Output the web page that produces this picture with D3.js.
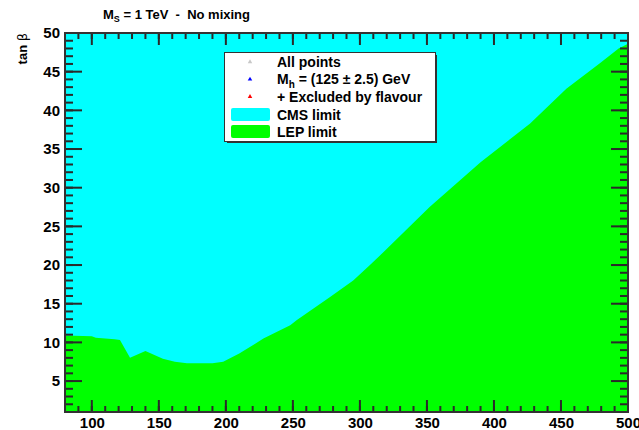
<!DOCTYPE html>
<html>
<head>
<meta charset="utf-8">
<script src="https://cdn.jsdelivr.net/npm/d3@7"></script>
<style>
  body { margin: 0; background: #fff; }
  text { font-family: "Liberation Sans", Arial, sans-serif; font-weight: bold; }
</style>
</head>
<body>
<div id="chart"></div>
<script>
// LEP exclusion boundary (M_A in GeV, tan beta)
var mA   = [80, 100, 103, 117, 121, 128.5, 140, 153, 162, 171, 190, 198, 210, 228, 248, 253, 278, 295, 307.5, 319, 352, 390, 427, 454, 479, 493, 500];
var tanB = [10.9, 10.8, 10.6, 10.4, 10.3, 8.0, 8.9, 7.9, 7.5, 7.3, 7.3, 7.5, 8.55, 10.5, 12.2, 12.9, 15.9, 18.0, 20.0, 21.9, 27.5, 33.3, 38.3, 42.8, 46.1, 48.0, 48.6];

var xMajor = [100, 150, 200, 250, 300, 350, 400, 450, 500];
var yMajor = [5, 10, 15, 20, 25, 30, 35, 40, 45, 50];

var legendMarkers = [
    {label: "All points", color: "#c8c8c8"},
    {label: "M_h = (125 \u00b1 2.5) GeV", color: "#0000ff"},
    {label: "+ Excluded by flavour", color: "#ff0000"}
];
var legendBoxes = [
    {label: "CMS limit", color: "#00ffff"},
    {label: "LEP limit", color: "#00ff00"}
];

var width = 639, height = 430;
var margin = {left: 65, top: 33, right: 11, bottom: 18};
var pw = width - margin.left - margin.right;
var ph = height - margin.top - margin.bottom;

var svg = d3.select("#chart").append("svg")
    .attr("width", width)
    .attr("height", height);

var x = d3.scaleLinear().domain([80, 500]).range([0, pw]);
var y = d3.scaleLinear().domain([1, 50]).range([ph, 0]);

var g = svg.append("g").attr("transform", "translate(" + margin.left + "," + margin.top + ")");

// CMS region fills the whole frame, LEP region on top of it
g.append("rect").attr("width", pw).attr("height", ph).attr("fill", "#00ffff");

var pts = mA.map(function(d, i) { return [d, tanB[i]]; });
var area = d3.area()
    .x(function(d) { return x(d[0]); })
    .y0(y(1))
    .y1(function(d) { return y(d[1]); });
g.append("path").datum(pts).attr("d", area).attr("fill", "#00ff00");

// title
var title = svg.append("text").attr("x", 103).attr("y", 19).attr("font-size", 13);
title.append("tspan").text("M");
title.append("tspan").attr("font-size", 9).attr("dy", 3).text("S");
title.append("tspan").attr("dy", -3).text(" = 1 TeV \u00a0-\u00a0 No mixing");

// y title
var yt = svg.append("text")
    .attr("transform", "translate(27," + margin.top + ") rotate(-90)")
    .attr("text-anchor", "end")
    .attr("font-size", 13);
yt.append("tspan").text("tan ");
yt.append("tspan").attr("font-weight", "normal").attr("font-family", "'DejaVu Sans', sans-serif").text("\u03b2");

// legend
var lg = svg.append("g").attr("transform", "translate(225,53)");
lg.append("rect").attr("x", 2).attr("y", 2).attr("width", 210).attr("height", 88).attr("fill", "#333");
lg.append("rect").attr("x", -1).attr("y", -1).attr("width", 212).attr("height", 90).attr("fill", "#333");
lg.append("rect").attr("width", 210).attr("height", 88).attr("fill", "#fff");

var tri = d3.symbol().type(d3.symbolTriangle).size(9);
legendMarkers.forEach(function(d, i) {
    var cy = 9 + i * 17.3;
    lg.append("path").attr("d", tri)
        .attr("transform", "translate(25," + cy + ")")
        .attr("fill", d.color);
    var t = lg.append("text").attr("x", 52).attr("y", cy + 5).attr("font-size", 14);
    var parts = d.label.split("_h");
    if (parts.length > 1) {
        t.append("tspan").text(parts[0]);
        t.append("tspan").attr("font-size", 10).attr("dy", 4).text("h");
        t.append("tspan").attr("dy", -4).text(parts[1]);
    } else {
        t.text(d.label);
    }
});
legendBoxes.forEach(function(d, i) {
    var cy = 62 + i * 17;
    lg.append("rect").attr("x", 6).attr("y", cy - 7).attr("width", 39).attr("height", 13)
        .attr("rx", 2).attr("fill", d.color);
    lg.append("text").attr("x", 52).attr("y", cy + 5).attr("font-size", 14).text(d.label);
});

// axes: labels from d3 axes, ticks and frame as thin filled bars on top
var xMinor = d3.range(80, 501, 10);
var yMinor = d3.range(1, 51, 1);
var tickColor = "#2a2a2a";

function styleAxis(sel) {
    sel.select(".domain").remove();
    sel.selectAll(".tick line").remove();
    sel.selectAll(".tick text")
        .attr("font-family", "'Liberation Sans', Arial, sans-serif")
        .attr("font-weight", "bold")
        .attr("font-size", 15)
        .attr("fill", "#000");
}

var axes = svg.append("g").attr("transform", "translate(" + margin.left + "," + margin.top + ")");

axes.append("g").attr("transform", "translate(0," + ph + ")")
    .call(d3.axisBottom(x).tickValues(xMajor).tickSize(0).tickPadding(5))
    .call(styleAxis);
axes.append("g")
    .call(d3.axisLeft(y).tickValues(yMajor).tickSize(0).tickPadding(5))
    .call(styleAxis);

function xTicks(vals, len, cls) {
    axes.selectAll("rect.b" + cls).data(vals).enter().append("rect")
        .attr("class", "b" + cls)
        .attr("x", function(d) { return x(d) - 1; }).attr("y", ph - len)
        .attr("width", 2).attr("height", len).attr("fill", tickColor);
    axes.selectAll("rect.t" + cls).data(vals).enter().append("rect")
        .attr("class", "t" + cls)
        .attr("x", function(d) { return x(d) - 1; }).attr("y", 0)
        .attr("width", 2).attr("height", len).attr("fill", tickColor);
}
function yTicks(vals, len, cls) {
    axes.selectAll("rect.l" + cls).data(vals).enter().append("rect")
        .attr("class", "l" + cls)
        .attr("x", 0).attr("y", function(d) { return y(d) - 1; })
        .attr("width", len).attr("height", 2).attr("fill", tickColor);
    axes.selectAll("rect.r" + cls).data(vals).enter().append("rect")
        .attr("class", "r" + cls)
        .attr("x", pw - len).attr("y", function(d) { return y(d) - 1; })
        .attr("width", len).attr("height", 2).attr("fill", tickColor);
}
xTicks(xMinor, 6, "xmin");
xTicks(xMajor, 12, "xmaj");
yTicks(yMinor, 8, "ymin");
yTicks(yMajor, 17, "ymaj");

// frame
var fc = "#333";
axes.append("rect").attr("x", -1).attr("y", -1).attr("width", pw + 2).attr("height", 2).attr("fill", fc);
axes.append("rect").attr("x", -1).attr("y", ph - 1).attr("width", pw + 2).attr("height", 2).attr("fill", fc);
axes.append("rect").attr("x", -1).attr("y", -1).attr("width", 2).attr("height", ph + 2).attr("fill", fc);
axes.append("rect").attr("x", pw - 1).attr("y", -1).attr("width", 2).attr("height", ph + 2).attr("fill", fc);
</script>
</body>
</html>
